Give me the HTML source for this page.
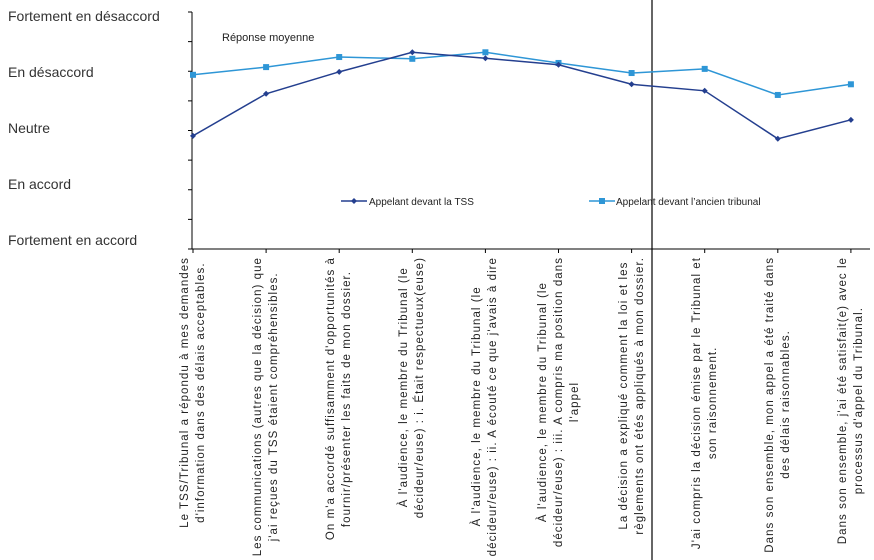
<!DOCTYPE html>
<html><head><meta charset="utf-8"><style>
body{margin:0;background:#fff;width:874px;height:560px;overflow:hidden;position:relative;font-family:"Liberation Sans",sans-serif;}
svg{position:absolute;left:0;top:0}
.xl{position:absolute;top:257px;writing-mode:vertical-rl;transform:translateX(-50%) rotate(180deg);text-align:center;font-size:11.5px;line-height:16px;color:#222;letter-spacing:1.05px;white-space:nowrap}
</style></head><body>
<svg id="chart" width="874" height="560"></svg>
<div id="labels"></div>
<script>
const categories=[
"Le TSS/Tribunal a répondu à mes demandes<br>d'information dans des délais acceptables.",
"Les communications (autres que la décision) que<br>j'ai reçues du TSS étaient compréhensibles.",
"On m'a accordé suffisamment d'opportunités à<br>fournir/présenter les faits de mon dossier.",
"À l'audience, le membre du Tribunal (le<br>décideur/euse) : i. Était respectueux(euse)",
"À l'audience, le membre du Tribunal (le<br>décideur/euse) : ii. A écouté ce que j'avais à dire",
"À l'audience, le membre du Tribunal (le<br>décideur/euse) : iii. A compris ma position dans<br>l'appel",
"La décision a expliqué comment la loi et les<br>règlements ont étés appliqués à mon dossier.",
"J'ai compris la décision émise par le Tribunal et<br>son raisonnement.",
"Dans son ensemble, mon appel a été traité dans<br>des délais raisonnables.",
"Dans son ensemble, j'ai été satisfait(e) avec le<br>processus d'appel du Tribunal."];
const seriesTSS=[2.91,3.62,3.99,4.32,4.22,4.11,3.78,3.67,2.86,3.18];
const seriesAncien=[3.94,4.07,4.24,4.21,4.32,4.14,3.97,4.04,3.60,3.78];
const yTickLabels=["Fortement en accord","En accord","Neutre","En désaccord","Fortement en désaccord"];
const yTickValues=[1,2,3,4,5];

const NS="http://www.w3.org/2000/svg";
const svg=document.getElementById('chart');
const X0=193,DX=73.1,Y0=249,Y1=12;
const xs=i=>X0+i*DX;
const ys=v=>Y0-(v-1)*(Y0-Y1)/4;
function el(t,a,p){const e=document.createElementNS(NS,t);for(const k in a)e.setAttribute(k,a[k]);(p||svg).appendChild(e);return e;}

let e=el('line',{x1:192,y1:Y1,x2:192,y2:Y0,stroke:'#000','stroke-width':1});


for(let k=0;k<=8;k++){const y=Y0-k*(Y0-Y1)/8;e=el('line',{x1:188,y1:y,x2:192,y2:y,stroke:'#000'});

}
const labelY=[245,189,133,77,21];
yTickLabels.forEach((t,i)=>{e=el('text',{x:8,y:labelY[i],'font-size':14,fill:'#333'});e.textContent=t;

});
e=el('line',{x1:192,y1:Y0,x2:870,y2:Y0,stroke:'#000'});


categories.forEach((c,i)=>{e=el('line',{x1:xs(i),y1:Y0,x2:xs(i),y2:Y0+4,stroke:'#000'});


const d=document.createElement('div');d.className='xl';d.style.left=xs(i)+'px';d.innerHTML=c;


document.getElementById('labels').appendChild(d);});
e=el('line',{x1:652,y1:0,x2:652,y2:560,stroke:'#000','stroke-width':1.2});


e=el('text',{x:222,y:41,'font-size':11,fill:'#222'});e.textContent='Réponse moyenne';



function series(vals,color,sq,name){
 e=el('polyline',{points:vals.map((v,i)=>xs(i)+','+ys(v)).join(' '),fill:'none',stroke:color,'stroke-width':1.5});
 
 
 vals.forEach((v,i)=>{
  if(sq)e=el('rect',{x:xs(i)-3,y:ys(v)-3,width:6,height:6,fill:color});
  else e=el('polygon',{points:`${xs(i)},${ys(v)-3} ${xs(i)+3},${ys(v)} ${xs(i)},${ys(v)+3} ${xs(i)-3},${ys(v)}`,fill:color});
  
  
 });
}
series(seriesAncien,'#2e96d6',true,'ancien-tribunal');
series(seriesTSS,'#243f8f',false,'tss');

function legend(x,tx,color,sq,text,name){
 const g=el('g',{});
 
 
 el('line',{x1:x,y1:201,x2:x+26,y2:201,stroke:color,'stroke-width':1.5},g);
 const cx=x+13;
 if(sq)el('rect',{x:cx-3,y:198,width:6,height:6,fill:color},g);
 else el('polygon',{points:`${cx},198 ${cx+3},201 ${cx},204 ${cx-3},201`,fill:color},g);
 const t=el('text',{x:tx,y:205,'font-size':10,fill:'#222'},g);t.textContent=text;
}
legend(341,369,'#243f8f',false,'Appelant devant la TSS','legend-entry-tss');
legend(589,616,'#2e96d6',true,'Appelant devant l’ancien tribunal','legend-entry-ancien');
</script>
</body></html>
